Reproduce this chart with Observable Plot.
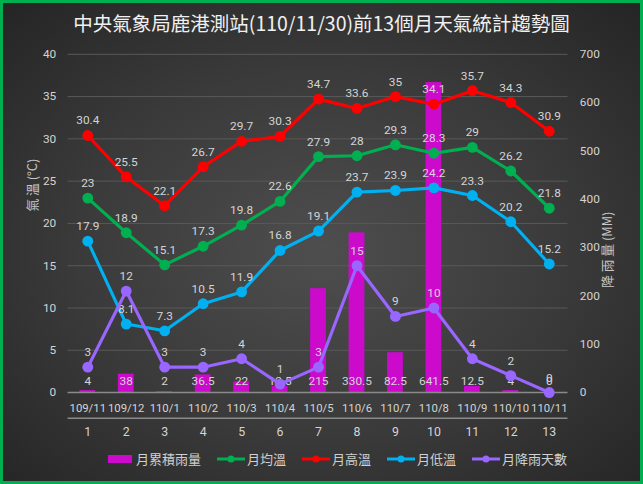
<!DOCTYPE html>
<html>
<head>
<meta charset="utf-8">
<script src="https://cdn.jsdelivr.net/npm/d3@7"></script>
<script src="https://cdn.jsdelivr.net/npm/@observablehq/plot@0.6"></script>
<style>
  html, body { margin: 0; padding: 0; background: #2a2a2a; }
  #wrap {
    position: relative; width: 643px; height: 484px; box-sizing: border-box;
    border: 3px solid #00b050;
    background: radial-gradient(ellipse 70% 70% at 50% 52%, #4e4e4e 0%, #3a3a3a 55%, #262626 100%);
    font-family: "Noto Sans CJK TC", "Noto Sans", sans-serif;
    overflow: hidden;
  }
  #title {
    position: absolute; left: 0; top: 5px; width: 637px; text-align: center;
    color: #f0f0f0; font-size: 19.5px; letter-spacing: 0px;
    font-family: "Noto Sans CJK TC", sans-serif;
  }
  #chart { position: absolute; left: -3px; top: 38px; }
  #legend {
    position: absolute; left: 105px; top: 446px; display: flex; align-items: center;
    color: #d0d0d0; font-size: 13px; font-family: "Noto Sans CJK TC", sans-serif;
  }
  #legend .item { display: flex; align-items: center; margin-right: 16px; }
  #legend svg { margin-right: 2px; }
</style>
</head>
<body>
<div id="wrap">
  <div id="title">中央氣象局鹿港測站(110/11/30)前13個月天氣統計趨勢圖</div>
  <div id="chart"></div>
  <div id="legend"></div>
</div>
<script>
// ---- data ----
const months = [1,2,3,4,5,6,7,8,9,10,11,12,13];
const monthLabels = ["109/11","109/12","110/1","110/2","110/3","110/4","110/5","110/6","110/7","110/8","110/9","110/10","110/11"];
const rainfall = [4, 38, 2, 36.5, 22, 12.5, 215, 330.5, 82.5, 641.5, 12.5, 4, 0];      // 月累積雨量 (MM)
const avgTemp  = [23, 18.9, 15.1, 17.3, 19.8, 22.6, 27.9, 28, 29.3, 28.3, 29, 26.2, 21.8]; // 月均溫
const highTemp = [30.4, 25.5, 22.1, 26.7, 29.7, 30.3, 34.7, 33.6, 35, 34.1, 35.7, 34.3, 30.9]; // 月高溫
const lowTemp  = [17.9, 8.1, 7.3, 10.5, 11.9, 16.8, 19.1, 23.7, 23.9, 24.2, 23.3, 20.2, 15.2]; // 月低溫
const rainDays = [3, 12, 3, 3, 4, 1, 3, 15, 9, 10, 4, 2, 0];                          // 月降雨天數
const tempTicks = [0,5,10,15,20,25,30,35,40];
const rainTicks = [0,100,200,300,400,500,600,700];

const seriesNames = ["月累積雨量","月均溫","月高溫","月低溫","月降雨天數"];
const colors = {"月累積雨量":"#cc0acc","月均溫":"#00b050","月高溫":"#ff0000","月低溫":"#00b0f0","月降雨天數":"#9966ff"};

// right axis (0-700 MM) shares the plot height with left axis (0-40 °C)
const k = 40 / 700;

const rows = months.map((m, i) => ({
  m, label: monthLabels[i], rain: rainfall[i], avg: avgTemp[i], hi: highTemp[i], lo: lowTemp[i], days: rainDays[i]
}));

const labelColor = "#d4d4d4";
const numFont = "Roboto, 'Noto Sans', sans-serif";

function series(field, color) {
  return [
    Plot.line(rows, {x: "m", y: field, stroke: color, strokeWidth: 3.2}),
    Plot.dot(rows, {x: "m", y: field, r: 5.5, fill: color, stroke: null}),
    Plot.text(rows, {x: "m", y: field, text: d => String(d[field]), dy: -15, fill: labelColor, fontSize: 12})
  ];
}

const chart = Plot.plot({
  width: 649,
  height: 406,
  marginLeft: 68.5,
  marginRight: 73.5,
  marginTop: 13,
  marginBottom: 50,
  style: {background: "transparent", color: labelColor, fontSize: "12px", fontFamily: numFont, overflow: "visible"},
  x: {type: "band", domain: months, padding: 0, axis: null},
  y: {domain: [0, 40], axis: null},
  marks: [
    Plot.ruleY(tempTicks.filter(t => t > 0), {stroke: "#595959", strokeWidth: 1}),
    Plot.barY(rows, {x: "m", y: d => d.rain * k, fill: colors["月累積雨量"], insetLeft: 11.5, insetRight: 11.5}),
    Plot.ruleY([0], {stroke: "#8a8a8a", strokeWidth: 1.5}),
    Plot.ruleY([0], {stroke: "#8a8a8a", strokeWidth: 1.5, dy: 26}),
    Plot.axisY({anchor: "left", ticks: tempTicks, tickSize: 0, tickPadding: 12, label: null, fontSize: 12}),
    Plot.axisY({anchor: "right", ticks: rainTicks.map(v => v * k), tickFormat: v => String(Math.round(v / k)), tickSize: 0, tickPadding: 12, label: null, fontSize: 12}),
    Plot.text(["氣 溫 (°C)"], {frameAnchor: "left", dx: -36, dy: -12, rotate: -90, text: d => d, fill: "#c8c8c8", fontSize: 13, fontFamily: "'Noto Sans CJK TC', sans-serif"}),
    Plot.text(["降 雨 量 (MM)"], {frameAnchor: "right", dx: 40, dy: -12, rotate: -90, text: d => d, fill: "#c8c8c8", fontSize: 13, fontFamily: "'Noto Sans CJK TC', sans-serif"}),
    Plot.text(rows, {x: "m", y: 0, text: "label", dy: 16, fill: labelColor, fontSize: 11.5}),
    Plot.text(rows, {x: "m", y: 0, text: d => String(d.m), dy: 40, fill: labelColor, fontSize: 12.5}),
    Plot.text(rows, {x: "m", y: 0, text: d => String(d.rain), dy: -12, fill: labelColor, fontSize: 12}),
    ...series("hi", colors["月高溫"]),
    ...series("avg", colors["月均溫"]),
    ...series("lo", colors["月低溫"]),
    ...series("days", colors["月降雨天數"])
  ]
});
document.getElementById("chart").appendChild(chart);

// legend
const legend = document.getElementById("legend");
seriesNames.forEach((name, i) => {
  const item = document.createElement("div");
  item.className = "item";
  const c = colors[name];
  const sw = i === 0
    ? `<svg width="26" height="10"><rect x="0" y="1" width="24" height="8" fill="${c}"/></svg>`
    : `<svg width="28" height="10"><line x1="0" y1="5" x2="28" y2="5" stroke="${c}" stroke-width="3"/><circle cx="14" cy="5" r="3.5" fill="${c}"/></svg>`;
  item.innerHTML = sw + `<span>${name}</span>`;
  legend.appendChild(item);
});
</script>
</body>
</html>
